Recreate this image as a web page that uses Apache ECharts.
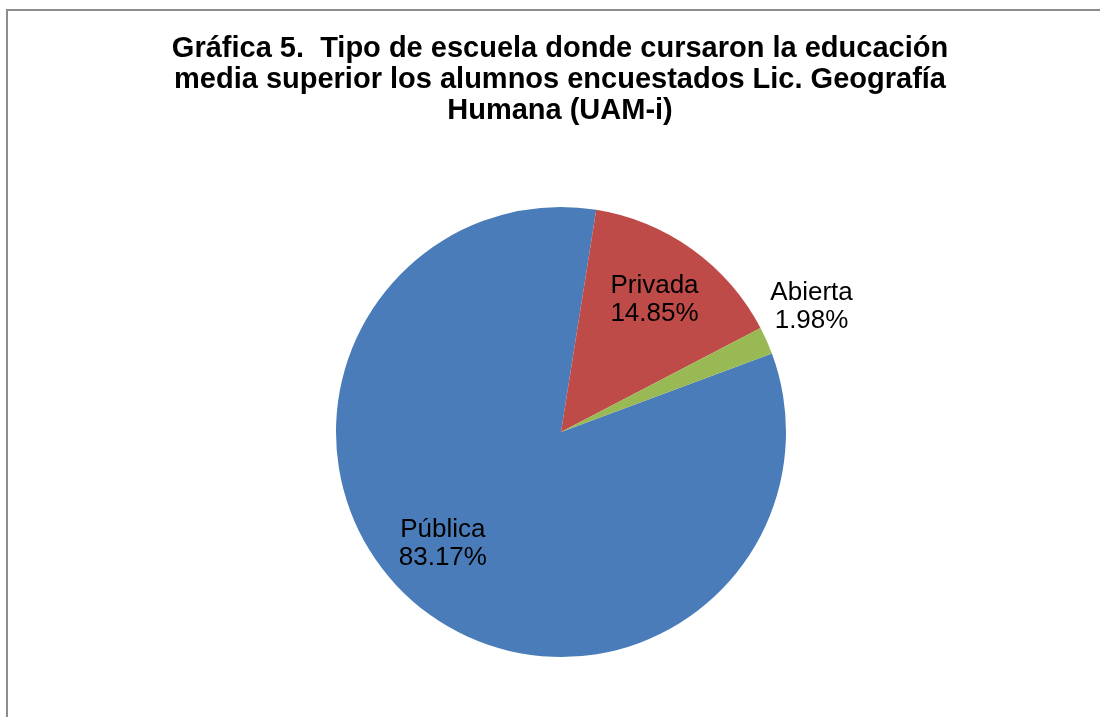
<!DOCTYPE html>
<html>
<head>
<meta charset="utf-8">
<script src="https://cdn.jsdelivr.net/npm/echarts@6/dist/echarts.min.js"></script>
<style>
  html, body { margin: 0; padding: 0; background: #fff; }
  #chart { width: 1100px; height: 717px; }
</style>
</head>
<body>
<div id="chart"></div>
<script>
// datos
const categorias = ['Pública', 'Privada', 'Abierta'];
const porcentajes = [83.17, 14.85, 1.98];
const colores = ['#4a7cb9', '#be4b48', '#98b954'];

// ajuste de las etiquetas respecto a la posición "inside"
const desplazamientos = {
  'Pública': [-45, 22],
  'Privada': [26, -38],
  'Abierta': [145, -78]
};

function renderPie() {
  const chart = echarts.init(document.getElementById('chart'));

  const datos = categorias.map((nombre, i) => ({
    name: nombre,
    value: porcentajes[i],
    itemStyle: { color: colores[i] }
  }));

  chart.setOption({
    animation: false,
    title: {
      text: 'Gráfica 5.  Tipo de escuela donde cursaron la educación\nmedia superior los alumnos encuestados Lic. Geografía\nHumana (UAM-i)',
      left: 560,
      top: 33,
      padding: 0,
      textAlign: 'center',
      textStyle: {
        fontFamily: 'Arial, "Liberation Sans", sans-serif',
        fontSize: 29,
        fontWeight: 'bold',
        lineHeight: 31,
        color: '#000'
      }
    },
    graphic: [{
      type: 'rect',
      z: -1,
      shape: { x: 7, y: 10, width: 1200, height: 800 },
      style: { fill: 'none', stroke: '#8c8c8c', lineWidth: 2 }
    }],
    series: [{
      type: 'pie',
      center: [561, 432],
      radius: 225,
      startAngle: 20.4,
      clockwise: true,
      data: datos,
      itemStyle: { borderWidth: 0 },
      label: {
        show: true,
        position: 'inside',
        formatter: p => p.name + '\n' + p.value.toFixed(2) + '%',
        fontFamily: 'Arial, "Liberation Sans", sans-serif',
        fontSize: 26,
        lineHeight: 28,
        color: '#000'
      },
      labelLine: { show: false },
      labelLayout: params => {
        const d = desplazamientos[categorias[params.dataIndex]];
        return { dx: d[0], dy: d[1] };
      }
    }]
  });
}

renderPie();
</script>
</body>
</html>
